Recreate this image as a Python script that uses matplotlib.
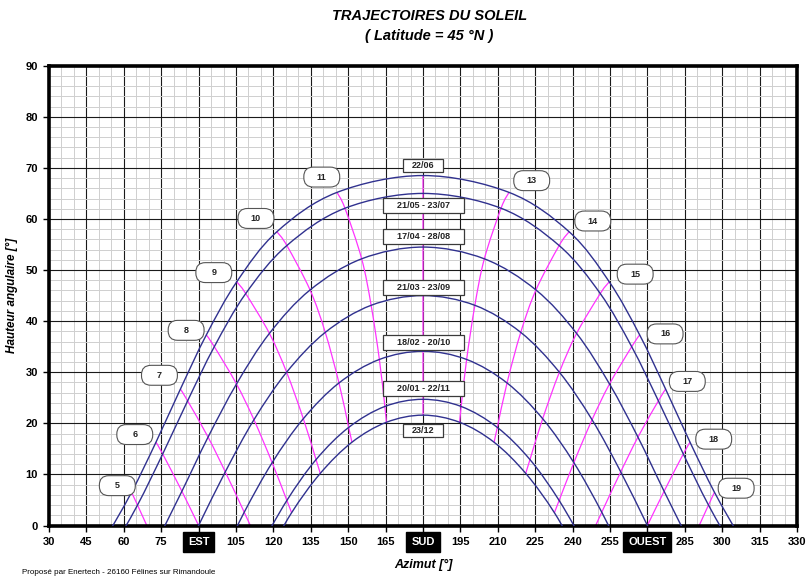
import matplotlib
matplotlib.use("Agg")
import matplotlib.pyplot as plt
from matplotlib.path import Path
from matplotlib.patches import PathPatch, FancyBboxPatch, Rectangle

plt.rcParams['font.family'] = ['Liberation Sans', 'DejaVu Sans']

# sun positions, one point per solar hour
date_labels = ["22/06", "21/05 - 23/07", "17/04 - 28/08", "21/03 - 23/09",
               "18/02 - 20/10", "20/01 - 22/11", "23/12"]
first_hour = [4, 4, 5, 5, 6, 7, 7]

az_jun = [52.7, 63.1, 72.9, 82.7, 93.1, 105.3, 121.4, 145.5, 180.0,
          214.5, 238.6, 254.7, 266.9, 277.3, 287.1, 296.9, 307.3]
el_jun = [-2.5, 6.5, 16.3, 26.7, 37.3, 47.7, 57.5, 65.2, 68.5,
          65.2, 57.5, 47.7, 37.3, 26.7, 16.3, 6.5, -2.5]
az_may = [54.8, 65.5, 75.6, 85.6, 96.3, 108.9, 125.4, 148.7, 180.0,
          211.3, 234.6, 251.1, 263.7, 274.4, 284.4, 294.5, 305.2]
el_may = [-5.2, 4.0, 14.0, 24.4, 35.0, 45.4, 54.8, 62.1, 65.0,
          62.1, 54.8, 45.4, 35.0, 24.4, 14.0, 4.0, -5.2]
az_apr = [72.7, 83.3, 93.8, 105.2, 118.4, 134.7, 155.4, 180.0,
          204.6, 225.3, 241.6, 254.8, 266.2, 276.7, 287.3]
el_apr = [-3.7, 6.7, 17.3, 27.7, 37.6, 46.1, 52.2, 54.5,
          52.2, 46.1, 37.6, 27.7, 17.3, 6.7, -3.7]
az_mar = [79.3, 90.0, 100.7, 112.2, 125.3, 140.8, 159.2, 180.0,
          200.8, 219.2, 234.7, 247.8, 259.3, 270.0, 280.7]
el_mar = [-10.5, 0.0, 10.5, 20.7, 30.0, 37.8, 43.1, 45.0,
          43.1, 37.8, 30.0, 20.7, 10.5, 0.0, -10.5]
az_feb = [97.8, 108.3, 119.5, 132.0, 146.3, 162.5, 180.0,
          197.5, 213.7, 228.0, 240.5, 251.7, 262.2]
el_feb = [-7.7, 2.6, 12.3, 20.9, 27.9, 32.5, 34.1,
          32.5, 27.9, 20.9, 12.3, 2.6, -7.7]
az_jan = [114.7, 125.4, 137.1, 150.2, 164.7, 180.0,
          195.3, 209.8, 222.9, 234.6, 245.3]
el_jan = [-4.2, 4.9, 12.9, 19.2, 23.3, 24.7,
          23.3, 19.2, 12.9, 4.9, -4.2]
az_dec = [116.9, 127.3, 138.8, 151.5, 165.3, 180.0,
          194.7, 208.5, 221.2, 232.7, 243.1]
el_dec = [-6.5, 2.5, 10.2, 16.3, 20.2, 21.6,
          20.2, 16.3, 10.2, 2.5, -6.5]

curves_az = [az_jun, az_may, az_apr, az_mar, az_feb, az_jan, az_dec]
curves_el = [el_jun, el_may, el_apr, el_mar, el_feb, el_jan, el_dec]

# label boxes
date_label_el = [70.5, 62.7, 56.5, 46.5, 35.8, 26.9, 18.6]
pill_hours = [5, 6, 7, 8, 9, 10, 11, 13, 14, 15, 16, 17, 18, 19]
pill_az = [57.4, 64.4, 74.3, 85.0, 96.1, 113.0, 139.4,
           223.6, 248.1, 265.1, 277.1, 286.0, 296.6, 305.6]
pill_el = [7.8, 17.8, 29.4, 38.2, 49.5, 60.1, 68.2,
           67.5, 59.6, 49.2, 37.5, 28.2, 16.9, 7.3]

x_ticks = list(range(30, 331, 15))
x_names = {90: "EST", 180: "SUD", 270: "OUEST"}

BLUE = "#30318F"
MAGENTA = "#FF33FF"


def smooth(xs, ys):
    # catmull-rom through the points, like a smoothed excel line
    pts = list(zip(xs, ys))
    pts = [pts[0]] + pts + [pts[-1]]
    verts = [pts[1]]
    codes = [Path.MOVETO]
    for i in range(1, len(pts) - 2):
        p0, p1, p2, p3 = pts[i - 1], pts[i], pts[i + 1], pts[i + 2]
        c1 = (p1[0] + (p2[0] - p0[0]) / 6, p1[1] + (p2[1] - p0[1]) / 6)
        c2 = (p2[0] - (p3[0] - p1[0]) / 6, p2[1] - (p3[1] - p1[1]) / 6)
        verts += [c1, c2, p2]
        codes += [Path.CURVE4] * 3
    return Path(verts, codes)


fig = plt.figure(figsize=(8.06, 5.77), dpi=100)
ax = fig.add_axes([49 / 806, 51.5 / 577, 748 / 806, 459.8 / 577])
ax.set_xlim(30, 330)
ax.set_ylim(0, 90)

ax.set_xticks(x_ticks)
ax.set_xticklabels([x_names.get(t, str(t)) for t in x_ticks])
ax.set_yticks(range(0, 91, 10))
ax.set_xticks(range(30, 331, 5), minor=True)
ax.set_yticks(range(0, 91, 2), minor=True)
ax.grid(True, which="minor", color="#cfcfcf", lw=0.7)
ax.grid(True, which="major", color="#1a1a1a", lw=0.8)
ax.set_axisbelow(True)
ax.tick_params(which="minor", length=0)
ax.tick_params(which="major", length=4, width=1, direction="out", pad=4,
               labelsize=8)
for lab in ax.get_xticklabels() + ax.get_yticklabels():
    lab.set_fontweight("bold")
for lab, t in zip(ax.get_xticklabels(), x_ticks):
    if t in x_names:
        lab.set_color("white")
        lab.set_bbox(dict(facecolor="black", edgecolor="black", pad=3.5))
for s in ax.spines.values():
    s.set_linewidth(2.6)
    s.set_color("black")

# hour lines
for h in range(5, 20):
    xs, ys = [], []
    for fh, caz, cel in zip(first_hour, curves_az, curves_el):
        i = h - fh
        if 0 <= i < len(caz):
            xs.append(caz[i])
            ys.append(cel[i])
    ax.add_patch(PathPatch(smooth(xs, ys), fill=False, ec=MAGENTA, lw=0.9, zorder=2))

# date curves
for caz, cel in zip(curves_az, curves_el):
    ax.add_patch(PathPatch(smooth(caz, cel), fill=False, ec=BLUE, lw=1.0, zorder=3))

# date boxes
for lab, el in zip(date_labels, date_label_el):
    w, hgt = (16.0, 2.55) if len(lab) < 6 else (32.5, 2.95)
    ax.add_patch(Rectangle((180.1 - w / 2, el - hgt / 2), w, hgt, fc="white",
                           ec="#3a3a3a", lw=0.9, zorder=5))
    ax.text(180.1, el, lab, ha="center", va="center", fontsize=6.5,
            fontweight="bold", color="#222222", zorder=6)

# hour pills
for h, x, y in zip(pill_hours, pill_az, pill_el):
    ax.add_patch(FancyBboxPatch((x - 7.2, y - 1.95), 14.4, 3.9,
                                boxstyle="round,pad=0,rounding_size=3.8",
                                mutation_aspect=0.488, fc="white", ec="#555555",
                                lw=0.8, zorder=5))
    ax.text(x, y, str(h), ha="center", va="center", fontsize=6.5,
            fontweight="bold", color="#222222", zorder=6)

fig.text(0.533, 0.972, "TRAJECTOIRES DU SOLEIL", ha="center", va="center",
         fontsize=10.5, fontweight="bold", fontstyle="italic")
fig.text(0.533, 0.938, "( Latitude = 45 °N )", ha="center", va="center",
         fontsize=10.5, fontweight="bold", fontstyle="italic")
ax.set_xlabel("Azimut [°]", fontsize=9, fontweight="bold", fontstyle="italic",
              labelpad=9)
ax.set_ylabel("Hauteur angulaire [°]", fontsize=8.5, fontweight="bold",
              fontstyle="italic", labelpad=5)
fig.text(0.027, 0.002, "Proposé par Enertech - 26160 Félines sur Rimandoule",
         fontsize=5.8, ha="left", va="bottom")

fig.savefig("out.png", dpi=100)
